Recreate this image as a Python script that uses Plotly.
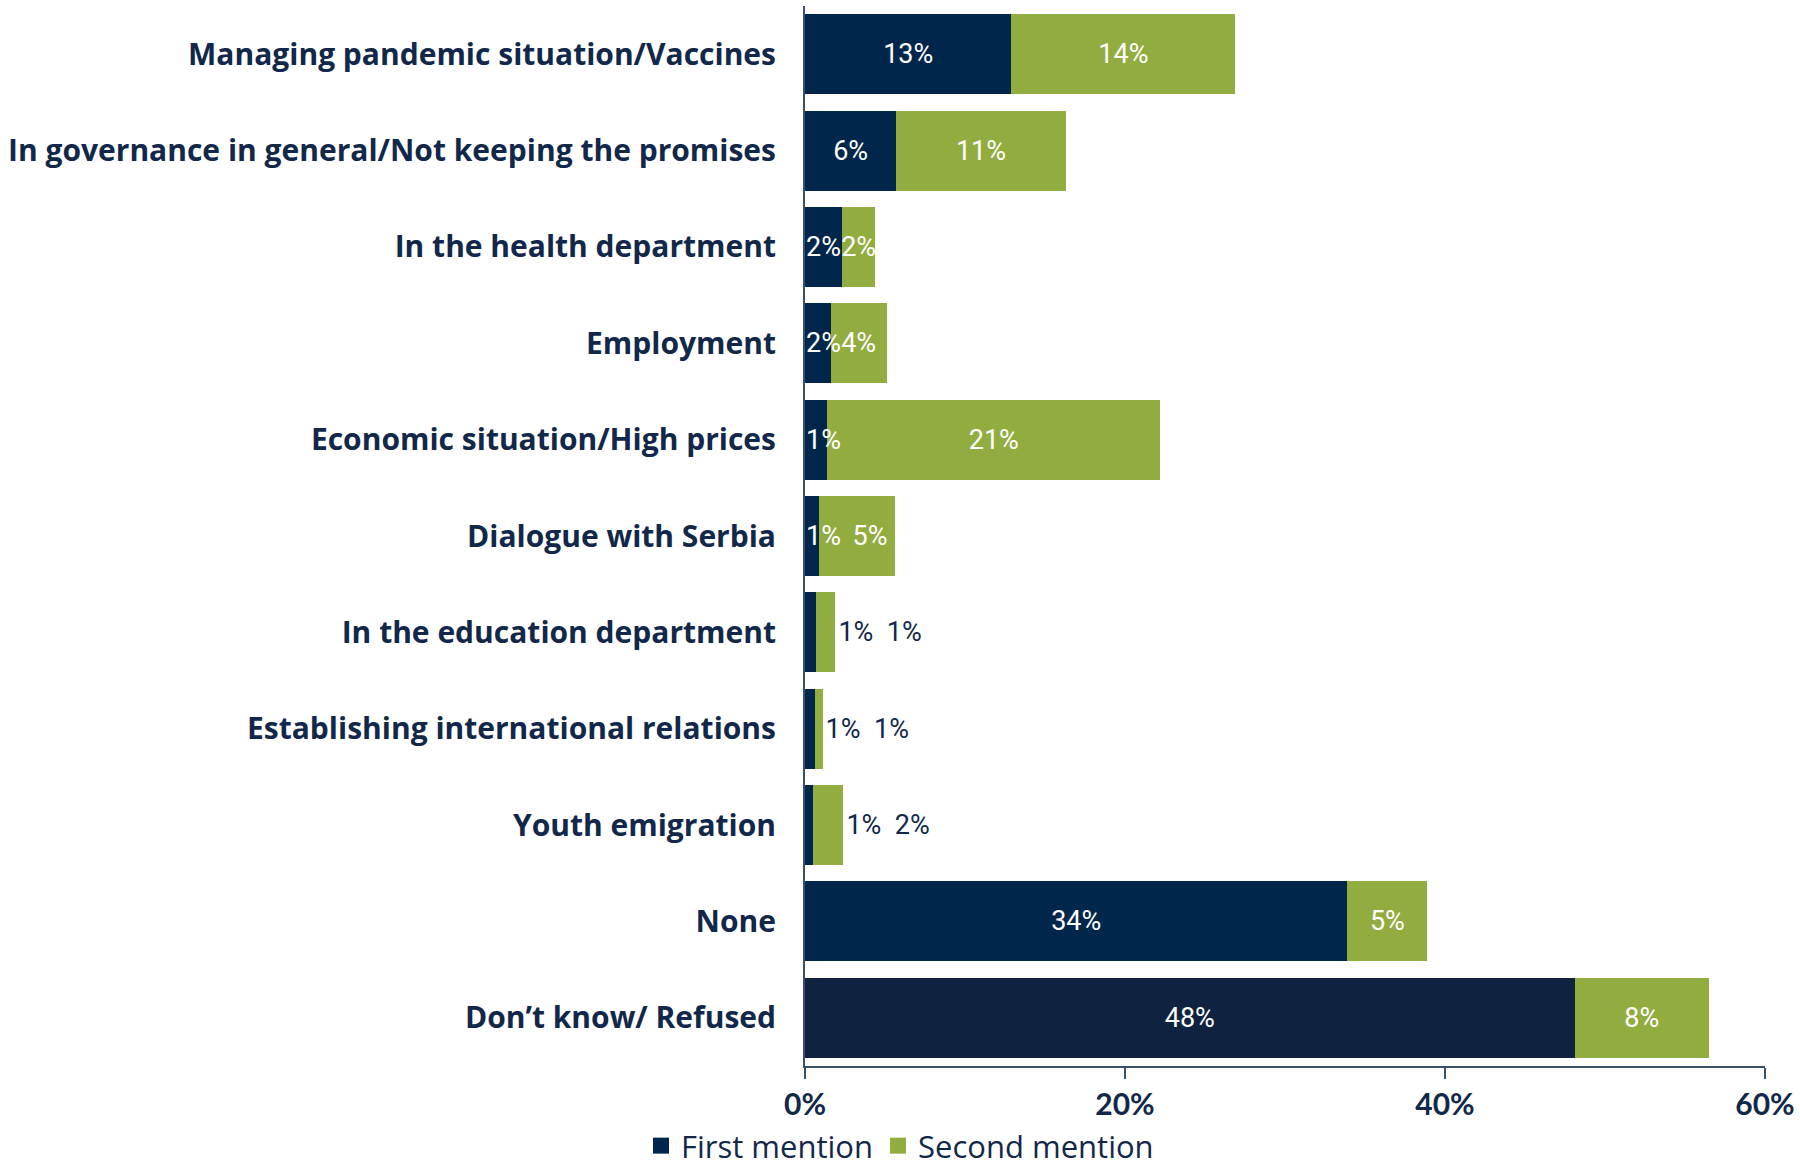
import plotly.graph_objects as go

categories = [
    "Managing pandemic situation/Vaccines",
    "In governance in general/Not keeping the promises",
    "In the health department",
    "Employment",
    "Economic situation/High prices",
    "Dialogue with Serbia",
    "In the education department",
    "Establishing international relations",
    "Youth emigration",
    "None",
    "Don\u2019t know/ Refused",
]
first_mention = [12.9, 5.7, 2.3, 1.6, 1.4, 0.85, 0.7, 0.6, 0.5, 33.9, 48.1]
second_mention = [14.0, 10.6, 2.1, 3.5, 20.8, 4.75, 1.2, 0.5, 1.9, 5.0, 8.4]
first_labels = ["13%", "6%", "2%", "2%", "1%", "1%", "1%", "1%", "1%", "34%", "48%"]
second_labels = ["14%", "11%", "2%", "4%", "21%", "5%", "1%", "1%", "2%", "5%", "8%"]
# rows whose labels sit outside the bars (right of the bar end)
outside_rows = [False, False, False, False, False, False, True, True, True, False, False]
# rows whose first-mention bar is too narrow to centre its label
narrow_rows = [False, False, True, True, True, True, False, False, False, False, False]
# rows whose second label is nudged right by leading spaces (as in the source)
second_lead_space = [False, False, False, False, False, True, False, False, False, False, False]
x_ticks = [0, 20, 40, 60]
x_tick_labels = ["0%", "20%", "40%", "60%"]

NAVY = "#00274B"
NAVY_DARK = "#0F2240"
GREEN = "#92AD3F"
TEXT = "#12284A"
AXIS = "#3A4F6A"
LABEL_SIZE = 27
LABEL_FAMILY = "Roboto"

first_colors = [NAVY] * (len(categories) - 1) + [NAVY_DARK]
first_text = ["" if (o or n) else l for o, n, l in zip(outside_rows, narrow_rows, first_labels)]
second_text = []
for o, s, a, b in zip(outside_rows, second_lead_space, first_labels, second_labels):
    if o:
        second_text.append(f"{a}&nbsp;&nbsp;{b}")
    elif s:
        second_text.append(f"&nbsp;&nbsp;&nbsp;&nbsp;{b}")
    else:
        second_text.append(b)
second_pos = ["outside" if o else "inside" for o in outside_rows]

LABEL_FONT = dict(color="white", size=LABEL_SIZE, family=LABEL_FAMILY)

fig = go.Figure()
fig.add_trace(go.Bar(
    y=categories, x=first_mention, orientation="h", name="First mention",
    marker=dict(color=first_colors, line=dict(width=0)),
    text=first_text, textposition="inside", insidetextanchor="middle",
    textangle=0, constraintext="none", cliponaxis=False,
    insidetextfont=LABEL_FONT, hoverinfo="skip", showlegend=False,
))
fig.add_trace(go.Bar(
    y=categories, x=second_mention, orientation="h", name="Second mention",
    marker=dict(color=GREEN, line=dict(width=0)),
    text=second_text, textposition=second_pos, insidetextanchor="middle",
    textangle=0, constraintext="none", cliponaxis=False,
    insidetextfont=LABEL_FONT,
    outsidetextfont=dict(color=TEXT, size=LABEL_SIZE, family=LABEL_FAMILY),
    hoverinfo="skip", showlegend=False,
))
# labels of narrow first-mention bars: start at the bar base, drawn above both bars
for cat, n, lab in zip(categories, narrow_rows, first_labels):
    if n:
        fig.add_annotation(
            x=0, y=cat, xref="x", yref="y", text=lab, showarrow=False,
            xanchor="left", xshift=-1, font=LABEL_FONT,
        )
# legend-only entries (larger square swatches)
for name, color in [("First mention", NAVY), ("Second mention", GREEN)]:
    fig.add_trace(go.Scatter(
        x=[None], y=[None], mode="markers", name=name,
        marker=dict(symbol="square", size=16, color=color),
        hoverinfo="skip", showlegend=True,
    ))

fig.update_layout(
    width=1800, height=1167,
    barmode="stack", bargap=0.17,
    plot_bgcolor="white", paper_bgcolor="white",
    margin=dict(l=805, r=35, t=6, b=101),
    uniformtext=dict(minsize=LABEL_SIZE, mode="show"),
    showlegend=True,
    legend=dict(
        orientation="h", xref="container", yref="container",
        x=0.5, xanchor="center", y=0.018, yanchor="middle",
        font=dict(family="Open Sans", size=31, color=TEXT),
        itemsizing="trace", traceorder="normal",
        tracegroupgap=0, itemwidth=30,
    ),
    font=dict(family="Open Sans", color=TEXT),
)
fig.update_yaxes(
    autorange="reversed", showline=True, linecolor=AXIS, linewidth=2,
    ticks="", ticklabelstandoff=21, automargin=False,
    tickfont=dict(family="Open Sans", size=30, color=TEXT, weight="bold"),
    showgrid=False,
)
fig.update_xaxes(
    range=[0, 60], tickvals=x_ticks, ticktext=x_tick_labels,
    showline=True, linecolor=AXIS, linewidth=2, automargin=False,
    ticks="outside", ticklen=11, tickcolor=AXIS, tickwidth=2,
    ticklabeloverflow="allow",
    tickfont=dict(family="Lato", size=30, color=TEXT, weight="bold"),
    showgrid=False, zeroline=False,
)

fig.write_html("out.html", config={"displayModeBar": False},
               post_script="document.body.style.margin='0';")
